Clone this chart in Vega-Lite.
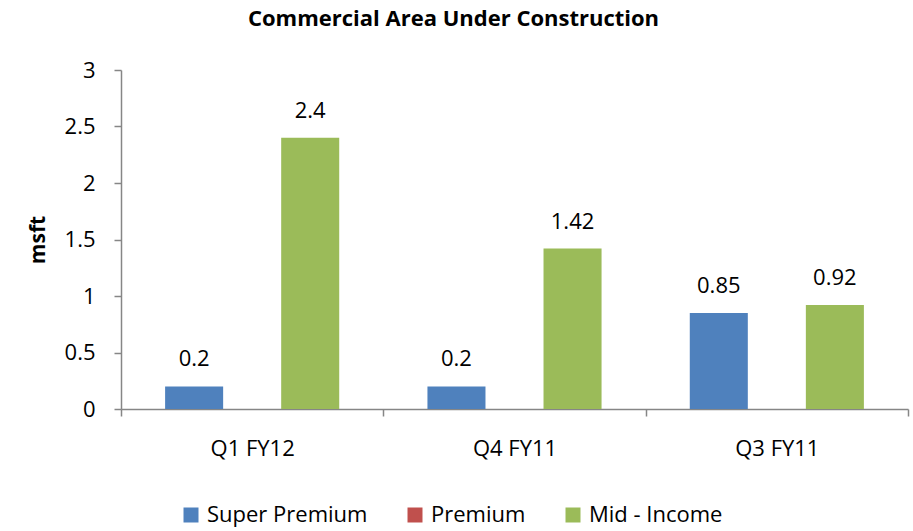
{
  "$schema": "https://vega.github.io/schema/vega-lite/v6.json",
  "autosize": "none",
  "width": 787,
  "height": 339,
  "padding": {"left": 121, "top": 70, "right": 5, "bottom": 122},
  "background": "white",
  "config": {"view": {"stroke": null}, "font": "Open Sans"},
  "title": {
    "text": "Commercial Area Under Construction",
    "font": "Open Sans",
    "fontSize": 22,
    "fontWeight": "bold",
    "color": "#000000",
    "anchor": "middle",
    "dx": -61,
    "offset": 28
  },
  "data": {
    "values": [
      {"quarter": "Q1 FY12", "segment": "Super Premium", "value": 0.2},
      {"quarter": "Q1 FY12", "segment": "Premium", "value": null},
      {"quarter": "Q1 FY12", "segment": "Mid - Income", "value": 2.4},
      {"quarter": "Q4 FY11", "segment": "Super Premium", "value": 0.2},
      {"quarter": "Q4 FY11", "segment": "Premium", "value": null},
      {"quarter": "Q4 FY11", "segment": "Mid - Income", "value": 1.42},
      {"quarter": "Q3 FY11", "segment": "Super Premium", "value": 0.85},
      {"quarter": "Q3 FY11", "segment": "Premium", "value": null},
      {"quarter": "Q3 FY11", "segment": "Mid - Income", "value": 0.92}
    ]
  },
  "encoding": {
    "x": {
      "field": "quarter",
      "type": "nominal",
      "sort": ["Q1 FY12", "Q4 FY11", "Q3 FY11"],
      "scale": {"paddingInner": 0, "paddingOuter": 0},
      "axis": {
        "title": null,
        "labelAngle": 0,
        "labelFont": "Open Sans",
        "labelFontSize": 22,
        "labelColor": "#000000",
        "labelPadding": 22,
        "tickBand": "extent",
        "tickSize": 7,
        "tickColor": "#868686",
        "domainColor": "#868686",
        "domainWidth": 1.5,
        "tickWidth": 1.5,
        "grid": false
      }
    },
    "xOffset": {
      "field": "segment",
      "type": "nominal",
      "sort": ["Super Premium", "Premium", "Mid - Income"],
      "scale": {"domain": ["Super Premium", "Premium", "Mid - Income"], "paddingInner": 0, "paddingOuter": 0.76}
    },
    "y": {
      "field": "value",
      "type": "quantitative",
      "scale": {"domain": [0, 3], "nice": false},
      "axis": {
        "title": "msft",
        "titleFont": "Open Sans",
        "titleFontSize": 21,
        "titleFontWeight": "bold",
        "titleColor": "#000000",
        "titlePadding": 16,
        "values": [0, 0.5, 1, 1.5, 2, 2.5, 3],
        "format": "~g",
        "labelFont": "Open Sans",
        "labelFontSize": 22,
        "labelColor": "#000000",
        "labelPadding": 19,
        "tickSize": 7,
        "tickColor": "#868686",
        "domainColor": "#868686",
        "domainWidth": 1.5,
        "tickWidth": 1.5,
        "grid": false
      }
    }
  },
  "layer": [
    {
      "mark": {"type": "bar"},
      "encoding": {
        "color": {
          "field": "segment",
          "type": "nominal",
          "scale": {
            "domain": ["Super Premium", "Premium", "Mid - Income"],
            "range": ["#4F81BD", "#C0504D", "#9BBB59"]
          },
          "legend": {
            "title": null,
            "orient": "none",
            "direction": "horizontal",
            "legendX": 59,
            "legendY": 434,
            "symbolType": "square",
            "symbolSize": 225,
            "symbolStrokeWidth": 0,
            "labelFont": "Open Sans",
            "labelFontSize": 22,
            "labelColor": "#000000",
            "labelOffset": 5,
            "columnPadding": 36,
            "labelLimit": 300
          }
        }
      }
    },
    {
      "mark": {"type": "text", "baseline": "alphabetic", "dy": -20, "font": "Open Sans", "fontSize": 22, "color": "#000000"},
      "encoding": {
        "text": {"field": "value", "type": "quantitative"}
      }
    }
  ]
}
